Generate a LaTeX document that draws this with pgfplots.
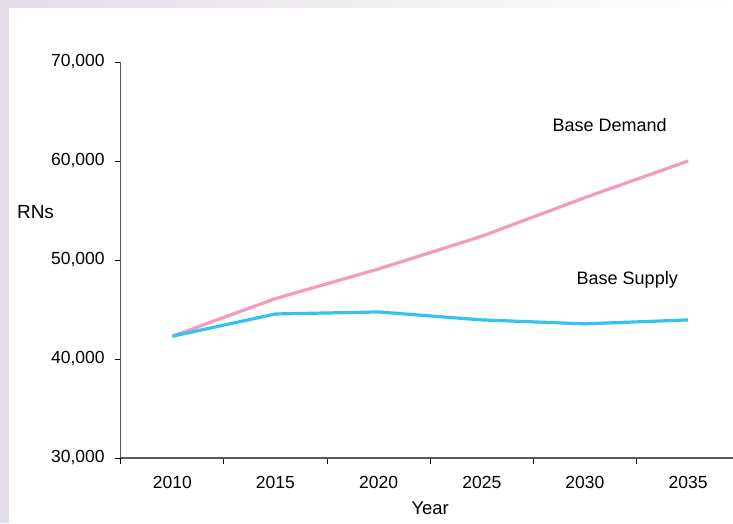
\documentclass[border=0pt]{standalone}
\usepackage{pgfplots}
\pgfplotsset{compat=1.18}
\usepackage{fontspec}
\setmainfont{Liberation Sans}
\definecolor{bglav}{HTML}{E4DEE6}
\definecolor{demand}{HTML}{F49AC1}
\definecolor{supply}{HTML}{33C3F0}
\definecolor{axgray}{HTML}{5A5A5A}
\begin{document}
\fontsize{17.5pt}{21pt}\selectfont
\begin{tikzpicture}[x=1pt,y=1pt]
\useasboundingbox (0,0) rectangle (733,523);
\clip (0,0) rectangle (733,523);
\fill[white] (0,0) rectangle (733,523);
\fill[bglav] (0,0) rectangle (9,523);
\shade[left color=bglav, right color=white] (9,515) rectangle (733,523);
\begin{axis}[
  at={(120.7pt,65pt)}, anchor=south west,
  scale only axis, width=619pt, height=396pt,
  xmin=-0.5, xmax=5.5, ymin=30000, ymax=70000,
  axis x line*=bottom, axis y line*=left,
  axis line style={axgray, line width=1.2pt, -},
  xtick={-0.5,0.5,1.5,2.5,3.5,4.5,5.5},
  x tick label as interval,
  xticklabels={2010,2015,2020,2025,2030,2035},
  ytick={30000,40000,50000,60000,70000},
  scaled y ticks=false,
  tick align=outside, major tick length=6pt,
  tick style={black, line width=0.8pt},
  /pgf/number format/.cd, 1000 sep={,}, assume math mode=true,
  /pgfplots/.cd,
  ticklabel style={font=\fontsize{17.5pt}{21pt}\selectfont},
  yticklabel style={xshift=-4pt},
  xticklabel style={yshift=-6pt},
  xlabel={\fontsize{18.5pt}{22pt}\selectfont Year},
  xlabel style={at={(rel axis cs:0.5,0)}, anchor=north, yshift=-38pt},
  clip=false,
]
\addplot[demand, line width=3.2pt, line join=round] coordinates {
  (0,42300) (1,46100) (2,49100) (3,52400) (4,56300) (5,60000)};
\addplot[supply, line width=3.2pt, line join=round] coordinates {
  (0,42300) (1,44550) (2,44750) (3,43950) (4,43550) (5,43950)};
\node[font=\fontsize{18pt}{22pt}\selectfont] at (axis cs:4.24,63600) {Base Demand};
\node[font=\fontsize{18pt}{22pt}\selectfont] at (axis cs:4.41,48000) {Base Supply};
\end{axis}
\node[anchor=west, font=\fontsize{19pt}{22pt}\selectfont] at (11,311) {RNs};
\end{tikzpicture}
\end{document}
